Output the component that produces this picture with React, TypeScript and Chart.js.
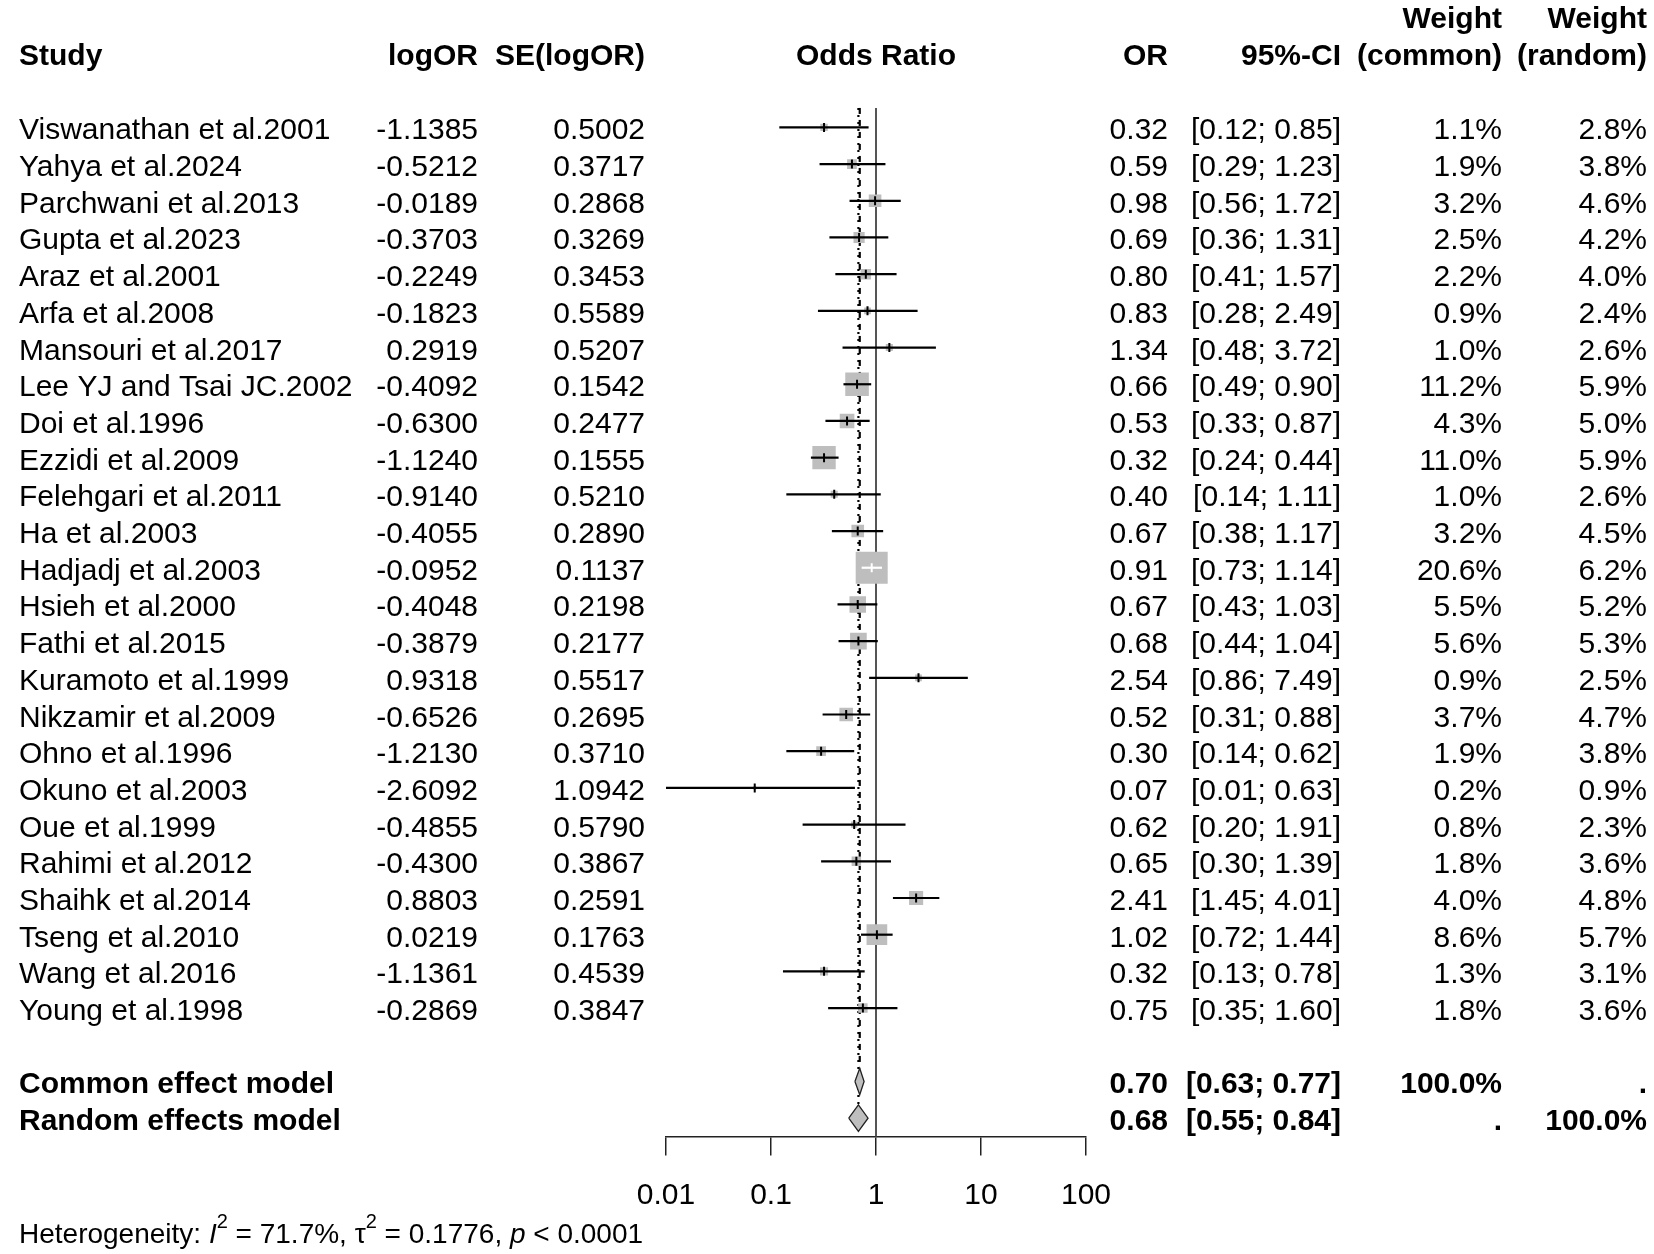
import React, { useEffect, useRef } from "react";
import { Chart, registerables } from "chart.js";

Chart.register(...registerables);

// ---------------- data ----------------
const studies = [
  "Viswanathan et al.2001",
  "Yahya et al.2024",
  "Parchwani et al.2013",
  "Gupta et al.2023",
  "Araz et al.2001",
  "Arfa et al.2008",
  "Mansouri et al.2017",
  "Lee YJ and Tsai JC.2002",
  "Doi et al.1996",
  "Ezzidi et al.2009",
  "Felehgari et al.2011",
  "Ha et al.2003",
  "Hadjadj et al.2003",
  "Hsieh et al.2000",
  "Fathi et al.2015",
  "Kuramoto et al.1999",
  "Nikzamir et al.2009",
  "Ohno et al.1996",
  "Okuno et al.2003",
  "Oue et al.1999",
  "Rahimi et al.2012",
  "Shaihk et al.2014",
  "Tseng et al.2010",
  "Wang et al.2016",
  "Young et al.1998",
];
const logOR = [
  -1.1385, -0.5212, -0.0189, -0.3703, -0.2249, -0.1823, 0.2919, -0.4092, -0.63,
  -1.124, -0.914, -0.4055, -0.0952, -0.4048, -0.3879, 0.9318, -0.6526, -1.213,
  -2.6092, -0.4855, -0.43, 0.8803, 0.0219, -1.1361, -0.2869,
];
const seLogOR = [
  0.5002, 0.3717, 0.2868, 0.3269, 0.3453, 0.5589, 0.5207, 0.1542, 0.2477,
  0.1555, 0.521, 0.289, 0.1137, 0.2198, 0.2177, 0.5517, 0.2695, 0.371, 1.0942,
  0.579, 0.3867, 0.2591, 0.1763, 0.4539, 0.3847,
];
const oddsRatio = [
  0.32, 0.59, 0.98, 0.69, 0.8, 0.83, 1.34, 0.66, 0.53, 0.32, 0.4, 0.67, 0.91,
  0.67, 0.68, 2.54, 0.52, 0.3, 0.07, 0.62, 0.65, 2.41, 1.02, 0.32, 0.75,
];
const ciLower = [
  0.12, 0.29, 0.56, 0.36, 0.41, 0.28, 0.48, 0.49, 0.33, 0.24, 0.14, 0.38, 0.73,
  0.43, 0.44, 0.86, 0.31, 0.14, 0.01, 0.2, 0.3, 1.45, 0.72, 0.13, 0.35,
];
const ciUpper = [
  0.85, 1.23, 1.72, 1.31, 1.57, 2.49, 3.72, 0.9, 0.87, 0.44, 1.11, 1.17, 1.14,
  1.03, 1.04, 7.49, 0.88, 0.62, 0.63, 1.91, 1.39, 4.01, 1.44, 0.78, 1.6,
];
const weightCommon = [
  1.1, 1.9, 3.2, 2.5, 2.2, 0.9, 1.0, 11.2, 4.3, 11.0, 1.0, 3.2, 20.6, 5.5, 5.6,
  0.9, 3.7, 1.9, 0.2, 0.8, 1.8, 4.0, 8.6, 1.3, 1.8,
];
const weightRandom = [
  2.8, 3.8, 4.6, 4.2, 4.0, 2.4, 2.6, 5.9, 5.0, 5.9, 2.6, 4.5, 6.2, 5.2, 5.3,
  2.5, 4.7, 3.8, 0.9, 2.3, 3.6, 4.8, 5.7, 3.1, 3.6,
];

const pooledLabels = ["Common effect model", "Random effects model"];
const pooledOR = [0.7, 0.68];
const pooledLower = [0.63, 0.55];
const pooledUpper = [0.77, 0.84];
const pooledWeightCommon = ["100.0%", "."];
const pooledWeightRandom = [".", "100.0%"];

const xTicks = [0.01, 0.1, 1, 10, 100];

const hetI2 = "71.7%";
const hetTau2 = "0.1776";
const hetP = "< 0.0001";

// ---------------- style / layout ----------------
const W = 1654;
const H = 1254;
const FONT = "'Liberation Sans', Arial, Helvetica, sans-serif";
const GRAY = "#BEBEBE";
const SQUARE_K = 7.05; // px of square side per sqrt(weight %)
const DIAMOND_HALF = 0.36; // rows
const TEXT_DY = 12;

const COL_STUDY = 19;
const COL_LOGOR = 478;
const COL_SE = 645;
const COL_OR = 1168;
const COL_CI = 1341;
const COL_WC = 1502;
const COL_WR = 1647;

const pooledRows = [studies.length + 1, studies.length + 2];

function squareSide(i: number) {
  return SQUARE_K * Math.sqrt(weightCommon[i]);
}

function insideSquare(chart: any, i: number) {
  const xs = chart && chart.scales && chart.scales.x;
  if (!xs || i == null || i < 0 || i >= studies.length) return false;
  const c = xs.getPixelForValue(oddsRatio[i]);
  const half = squareSide(i) / 2;
  return (
    xs.getPixelForValue(ciLower[i]) >= c - half &&
    xs.getPixelForValue(ciUpper[i]) <= c + half
  );
}

const fmtCI = (lo: number, hi: number) =>
  `[${lo.toFixed(2)}; ${hi.toFixed(2)}]`;

const linesPlugin = {
  id: "forestLines",
  beforeDatasetsDraw(chart: any) {
    const { ctx } = chart;
    const xs = chart.scales.x;
    const ys = chart.scales.y;
    const top = ys.getPixelForValue(-0.53);
    ctx.save();
    // line of no effect
    ctx.strokeStyle = "#555555";
    ctx.lineWidth = 2;
    ctx.beginPath();
    const x1 = xs.getPixelForValue(1);
    ctx.moveTo(x1, top);
    ctx.lineTo(x1, chart.chartArea.bottom);
    ctx.stroke();
    // common effect (dashed)
    ctx.strokeStyle = "#000";
    ctx.lineWidth = 2.2;
    ctx.setLineDash([6, 6]);
    ctx.beginPath();
    const xc = xs.getPixelForValue(pooledOR[0]);
    ctx.moveTo(xc, top);
    ctx.lineTo(xc, ys.getPixelForValue(pooledRows[0] - DIAMOND_HALF));
    ctx.stroke();
    // random effects (dotted)
    ctx.setLineDash([2, 5]);
    ctx.beginPath();
    const xr = xs.getPixelForValue(pooledOR[1]);
    ctx.moveTo(xr, top);
    ctx.lineTo(xr, ys.getPixelForValue(pooledRows[1] - DIAMOND_HALF));
    ctx.stroke();
    ctx.restore();
  },
};

const textPlugin = {
  id: "forestText",
  afterDraw(chart: any) {
    const { ctx } = chart;
    const xs = chart.scales.x;
    const ys = chart.scales.y;
    const put = (t: string, x: number, y: number, align: CanvasTextAlign) => {
      ctx.textAlign = align;
      ctx.fillText(t, x, y);
    };
    ctx.save();
    ctx.fillStyle = "#000";
    ctx.textBaseline = "alphabetic";

    // header
    const hb1 = 28;
    const hb2 = 65;
    ctx.font = `bold 30px ${FONT}`;
    put("Study", COL_STUDY, hb2, "left");
    put("logOR", COL_LOGOR, hb2, "right");
    put("SE(logOR)", COL_SE, hb2, "right");
    put("Odds Ratio", xs.getPixelForValue(1), hb2, "center");
    put("OR", COL_OR, hb2, "right");
    put("95%-CI", COL_CI, hb2, "right");
    put("Weight", COL_WC, hb1, "right");
    put("(common)", COL_WC, hb2, "right");
    put("Weight", COL_WR, hb1, "right");
    put("(random)", COL_WR, hb2, "right");

    // study rows
    ctx.font = `30px ${FONT}`;
    studies.forEach((s, i) => {
      const y = ys.getPixelForValue(i) + TEXT_DY;
      put(s, COL_STUDY, y, "left");
      put(logOR[i].toFixed(4), COL_LOGOR, y, "right");
      put(seLogOR[i].toFixed(4), COL_SE, y, "right");
      put(oddsRatio[i].toFixed(2), COL_OR, y, "right");
      put(fmtCI(ciLower[i], ciUpper[i]), COL_CI, y, "right");
      put(weightCommon[i].toFixed(1) + "%", COL_WC, y, "right");
      put(weightRandom[i].toFixed(1) + "%", COL_WR, y, "right");
    });

    // pooled rows
    ctx.font = `bold 30px ${FONT}`;
    pooledLabels.forEach((s, k) => {
      const y = ys.getPixelForValue(pooledRows[k]) + TEXT_DY;
      put(s, COL_STUDY, y, "left");
      put(pooledOR[k].toFixed(2), COL_OR, y, "right");
      put(fmtCI(pooledLower[k], pooledUpper[k]), COL_CI, y, "right");
      put(pooledWeightCommon[k], COL_WC, y, "right");
      put(pooledWeightRandom[k], COL_WR, y, "right");
    });

    // heterogeneity
    let hx = COL_STUDY;
    const hy = 1243;
    ctx.textAlign = "left";
    const seg = (t: string, font: string, dy = 0) => {
      ctx.font = font;
      ctx.fillText(t, hx, hy + dy);
      hx += ctx.measureText(t).width;
    };
    const nf = `28px ${FONT}`;
    const itf = `italic 28px ${FONT}`;
    const sf = `20px ${FONT}`;
    seg("Heterogeneity: ", nf);
    seg("I", itf);
    seg("2", sf, -15);
    seg(` = ${hetI2}, `, nf);
    seg("\u03C4", nf);
    seg("2", sf, -15);
    seg(` = ${hetTau2}, `, nf);
    seg("p", itf);
    seg(` ${hetP}`, nf);

    ctx.restore();
  },
};

export default function App() {
  const ref = useRef<HTMLCanvasElement | null>(null);

  useEffect(() => {
    if (!ref.current) return;

    const squares = {
      label: "squares",
      data: oddsRatio.map((v, i) => ({ x: v, y: i })),
      pointStyle: "rect",
      pointRadius: studies.map((_, i) => squareSide(i) / Math.SQRT2),
      pointBackgroundColor: GRAY,
      pointBorderWidth: 0,
      order: 4,
    };
    const ciLines = {
      label: "ci",
      data: studies.flatMap((_, i) => [
        { x: ciLower[i], y: i },
        { x: ciUpper[i], y: i },
        { x: ciUpper[i], y: null },
      ]),
      showLine: true,
      spanGaps: false,
      pointRadius: 0,
      borderWidth: 2.2,
      borderColor: "#000",
      segment: {
        borderColor: (c: any) =>
          insideSquare(c.chart, Math.floor(c.p0DataIndex / 3)) ? "#fff" : "#000",
      },
      clip: false,
      order: 3,
    };
    const ticks = {
      label: "est",
      data: oddsRatio.map((v, i) => ({ x: v, y: i })),
      pointStyle: "line",
      pointRotation: 90,
      pointRadius: 4.5,
      pointBorderWidth: 2,
      pointBorderColor: (c: any) =>
        insideSquare(c.chart, c.dataIndex) ? "#fff" : "#000",
      order: 2,
    };
    const diamonds = pooledOR.map((est, k) => {
      const r = pooledRows[k];
      return {
        label: pooledLabels[k],
        data: [
          { x: pooledLower[k], y: r },
          { x: est, y: r - DIAMOND_HALF },
          { x: pooledUpper[k], y: r },
          { x: est, y: r + DIAMOND_HALF },
          { x: pooledLower[k], y: r },
        ],
        showLine: true,
        fill: "shape",
        backgroundColor: GRAY,
        borderColor: "#222",
        borderWidth: 1.3,
        pointRadius: 0,
        tension: 0,
        order: 1,
      };
    });

    const chart = new Chart(ref.current, {
      type: "scatter",
      data: { datasets: [squares, ciLines, ticks, ...diamonds] as any },
      options: {
        responsive: false,
        animation: false,
        events: [],
        layout: { padding: { left: 666, right: W - 1086, top: 54, bottom: 27.5 } },
        plugins: {
          legend: { display: false },
          tooltip: { enabled: false },
        },
        scales: {
          x: {
            type: "logarithmic",
            min: 0.01,
            max: 100,
            position: "bottom",
            afterBuildTicks: (s: any) => {
              s.ticks = xTicks.map((v) => ({ value: v, major: true }));
            },
            afterFit: (s: any) => {
              s.height = 90;
            },
            ticks: {
              callback: (v: any) => String(v),
              font: { family: FONT, size: 30 },
              color: "#000",
              padding: 22,
              maxRotation: 0,
              autoSkip: false,
            },
            grid: {
              drawOnChartArea: false,
              drawTicks: true,
              tickLength: 19,
              color: "#222",
              lineWidth: 1.5,
            },
            border: { display: true, color: "#222", width: 1.5 },
          },
          y: {
            type: "linear",
            reverse: true,
            min: -2,
            max: 27.5,
            display: false,
          },
        },
      } as any,
      plugins: [linesPlugin, textPlugin],
    });

    return () => chart.destroy();
  }, []);

  return (
    <div
      style={{
        position: "absolute",
        left: 0,
        top: 0,
        width: W,
        height: H,
        background: "#fff",
      }}
    >
      <canvas
        ref={ref}
        width={W}
        height={H}
        style={{ width: W, height: H, display: "block" }}
      />
    </div>
  );
}
